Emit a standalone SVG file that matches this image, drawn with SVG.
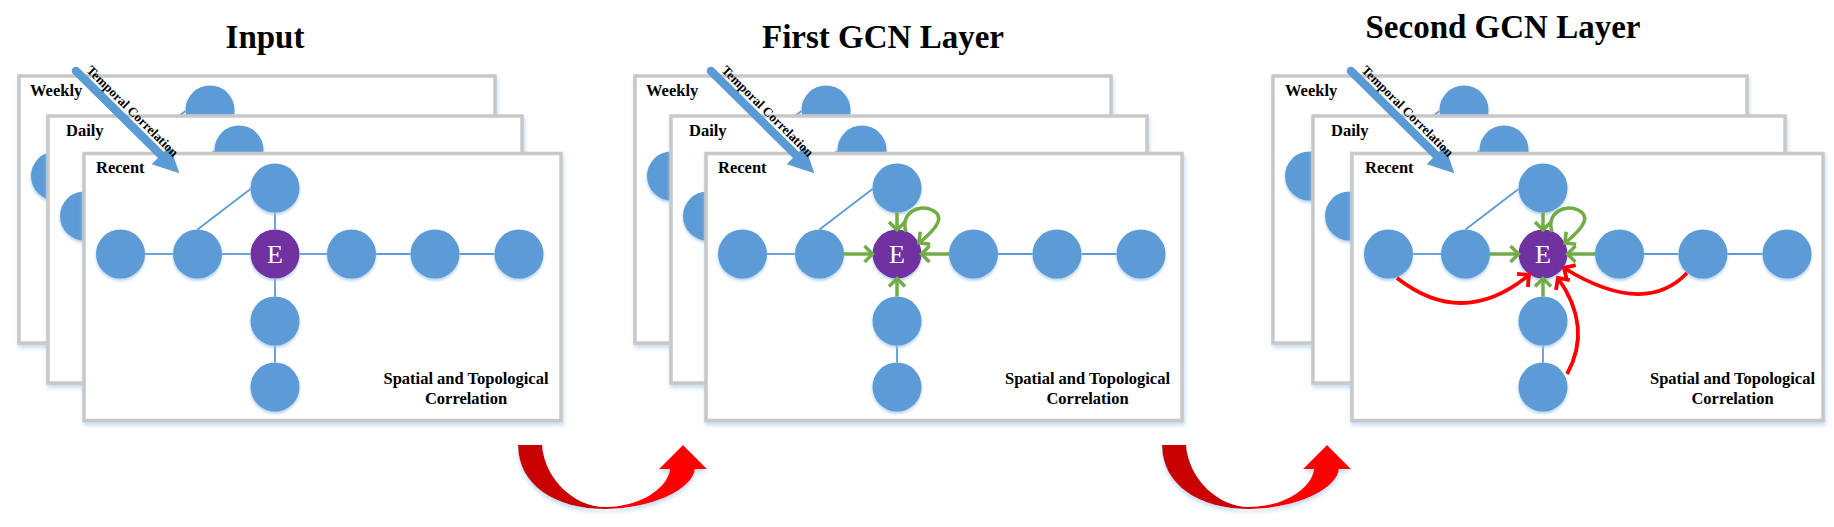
<svg xmlns="http://www.w3.org/2000/svg" width="1834" height="527" viewBox="0 0 1834 527">
<style>
.frame{fill:#fff;stroke:#C8C8C8;stroke-width:3.5;filter:url(#fshadow)}
.node{fill:#5B9BD5;filter:url(#nshadow)}
.enode{fill:#7030A0;filter:url(#nshadow)}
.edge{stroke:#5B9BD5;stroke-width:1.8;fill:none}
.g{stroke:#70AD47;stroke-width:3.5;fill:none;marker-end:url(#gArrow)}
.r{stroke:#FF0000;stroke-width:3.8;fill:none;marker-end:url(#rArrow)}
.title{font-family:"Liberation Serif","Times New Roman",serif;font-weight:bold;font-size:33px;text-anchor:middle;fill:#000}
.lbl{font-family:"Liberation Serif","Times New Roman",serif;font-weight:bold;font-size:16.5px;fill:#000}
.sp{font-family:"Liberation Serif","Times New Roman",serif;font-weight:bold;font-size:16.5px;text-anchor:middle;fill:#000}
.tc{font-family:"Liberation Serif","Times New Roman",serif;font-weight:bold;font-size:13px;fill:#000}
.etext{font-family:"Liberation Serif","Times New Roman",serif;font-size:26px;fill:#fff;text-anchor:middle}
.tshaft{stroke:#5B9BD5;stroke-width:8.5;stroke-linecap:round;fill:none}
.thead{fill:#5B9BD5}
.big{fill:url(#bigGrad);filter:url(#ashadow)}
</style>
<defs>
<filter id="nshadow" x="-30%" y="-30%" width="160%" height="170%">
<feDropShadow dx="0" dy="2" stdDeviation="1.5" flood-color="#9DC3E6" flood-opacity="0.8"/>
</filter>
<filter id="fshadow" x="-5%" y="-5%" width="110%" height="115%">
<feDropShadow dx="1" dy="3" stdDeviation="2" flood-color="#BDD7EE" flood-opacity="0.9"/>
</filter>
<filter id="ashadow" x="-10%" y="-10%" width="120%" height="130%">
<feDropShadow dx="0" dy="3" stdDeviation="2" flood-color="#BDD7EE" flood-opacity="0.9"/>
</filter>
<linearGradient id="bigGrad" gradientUnits="userSpaceOnUse" x1="518" y1="0" x2="707" y2="0">
<stop offset="0" stop-color="#C80000"/>
<stop offset="0.42" stop-color="#CC0000"/>
<stop offset="0.58" stop-color="#FF0000"/>
<stop offset="1" stop-color="#FF0000"/>
</linearGradient>
<marker id="gArrow" viewBox="0 0 20 20" refX="10" refY="10" markerWidth="20" markerHeight="20" markerUnits="userSpaceOnUse" orient="auto" overflow="visible">
<path d="M2,2 L10,10 L2,18" fill="none" stroke="#70AD47" stroke-width="3.5"/>
</marker>
<marker id="rArrow" viewBox="0 0 20 20" refX="10" refY="10" markerWidth="20" markerHeight="20" markerUnits="userSpaceOnUse" orient="auto" overflow="visible">
<path d="M1.5,1.5 L10,10 L1.5,18.5" fill="none" stroke="#FF0000" stroke-width="3.8"/>
</marker>
<g id="bgGraph">
<g class="bgEdges">
<line class="edge" x1="61" y1="100" x2="89" y2="100"/>
<line class="edge" x1="138" y1="100" x2="166.5" y2="100"/>
<line class="edge" x1="215.5" y1="100" x2="243" y2="100"/>
<line class="edge" x1="292" y1="100" x2="326.5" y2="100"/>
<line class="edge" x1="375.5" y1="100" x2="410.5" y2="100"/>
<line class="edge" x1="191" y1="58.5" x2="191" y2="75.5"/>
<line class="edge" x1="191" y1="124.5" x2="191" y2="142.5"/>
<line class="edge" x1="191" y1="191.5" x2="191" y2="208.5"/>
<line class="edge" x1="113.5" y1="75.5" x2="166.5" y2="35"/>
</g>
<circle class="node" cx="36.5" cy="100" r="24.5"/>
<circle class="node" cx="113.5" cy="100" r="24.5"/>
<circle class="node" cx="191" cy="100" r="24.5"/>
<circle class="node" cx="267.5" cy="100" r="24.5"/>
<circle class="node" cx="351" cy="100" r="24.5"/>
<circle class="node" cx="435" cy="100" r="24.5"/>
<circle class="node" cx="191" cy="34" r="24.5"/>
<circle class="node" cx="191" cy="167" r="24.5"/>
<circle class="node" cx="191" cy="233" r="24.5"/>
</g>
</defs>

<!-- ================= PANEL 1 : Input ================= -->
<g id="panel-input">
<g id="p1-weekly">
<rect class="frame" x="19" y="76" width="476" height="267"/>
<use href="#bgGraph" transform="translate(19,76)"/>
<text class="lbl" x="30" y="96">Weekly</text>
</g>
<g id="p1-daily">
<rect class="frame" x="48" y="116" width="474" height="267"/>
<use href="#bgGraph" transform="translate(48,116)"/>
<text class="lbl" x="66" y="136">Daily</text>
</g>
<g id="p1-recent">
<rect class="frame" x="84" y="153.5" width="477" height="267"/>
<text class="lbl" x="96" y="173">Recent</text>
<g transform="translate(84,154)">
<g id="p1-connectors">
<line class="edge" x1="61" y1="100" x2="89" y2="100"/>
<line class="edge" x1="138" y1="100" x2="166.5" y2="100"/>
<line class="edge" x1="215.5" y1="100" x2="243" y2="100"/>
<line class="edge" x1="292" y1="100" x2="326.5" y2="100"/>
<line class="edge" x1="375.5" y1="100" x2="410.5" y2="100"/>
<line class="edge" x1="191" y1="58.5" x2="191" y2="75.5"/>
<line class="edge" x1="191" y1="124.5" x2="191" y2="142.5"/>
<line class="edge" x1="191" y1="191.5" x2="191" y2="208.5"/>
<line class="edge" x1="113.5" y1="75.5" x2="166.5" y2="35"/>
</g>
<g id="p1-n1"><circle class="node" cx="36.5" cy="100" r="24.5"/></g>
<g id="p1-n2"><circle class="node" cx="113.5" cy="100" r="24.5"/></g>
<g id="p1-E"><circle class="enode" cx="191" cy="100" r="24.5"/><text class="etext" x="191" y="108.5">E</text></g>
<g id="p1-n4"><circle class="node" cx="267.5" cy="100" r="24.5"/></g>
<g id="p1-n5"><circle class="node" cx="351" cy="100" r="24.5"/></g>
<g id="p1-n6"><circle class="node" cx="435" cy="100" r="24.5"/></g>
<g id="p1-top"><circle class="node" cx="191" cy="34" r="24.5"/></g>
<g id="p1-b1"><circle class="node" cx="191" cy="167" r="24.5"/></g>
<g id="p1-b2"><circle class="node" cx="191" cy="233" r="24.5"/></g>
</g>
<text class="sp" x="466" y="384">Spatial and Topological</text>
<text class="sp" x="466" y="404">Correlation</text>
</g>
<g id="p1-temporal">
<line class="tshaft" x1="76" y1="71" x2="162" y2="156"/>
<polygon class="thead" points="179.3,173.3 170,145.8 151.7,164.2"/>
<text class="tc" transform="translate(85.7,71) rotate(44.7)" textLength="123" lengthAdjust="spacingAndGlyphs">Temporal Correlation</text>
</g>
<text class="title" x="265" y="48">Input</text>
</g>

<!-- transition arrow 1 -->
<g id="transition-1">
<path class="big" d="M518,445 L542,445 C545,480 575,507 605,507 C640,507 668,488 670,469 L659,469 L683,445 L707,469 L695,469 C693,490 650,509 605,509 C555,509 518,485 518,445 Z"/>
</g>

<!-- ================= PANEL 2 : First GCN Layer ================= -->
<g id="panel-first">
<g id="p2-weekly">
<rect class="frame" x="635" y="76" width="476" height="267"/>
<use href="#bgGraph" transform="translate(635,76)"/>
<text class="lbl" x="646" y="96">Weekly</text>
</g>
<g id="p2-daily">
<rect class="frame" x="671" y="116" width="476" height="267"/>
<use href="#bgGraph" transform="translate(671,116)"/>
<text class="lbl" x="689" y="136">Daily</text>
</g>
<g id="p2-recent">
<rect class="frame" x="706" y="153.5" width="476" height="267"/>
<text class="lbl" x="718" y="173">Recent</text>
<g transform="translate(706,154)">
<g id="p2-connectors">
<line class="edge" x1="61" y1="100" x2="89" y2="100"/>
<line class="edge" x1="292" y1="100" x2="326.5" y2="100"/>
<line class="edge" x1="375.5" y1="100" x2="410.5" y2="100"/>
<line class="edge" x1="191" y1="191.5" x2="191" y2="208.5"/>
<line class="edge" x1="113.5" y1="75.5" x2="166.5" y2="35"/>
</g>
<g id="p2-n1"><circle class="node" cx="36.5" cy="100" r="24.5"/></g>
<g id="p2-n2"><circle class="node" cx="113.5" cy="100" r="24.5"/></g>
<g id="p2-E"><circle class="enode" cx="191" cy="100" r="24.5"/><text class="etext" x="191" y="108.5">E</text></g>
<g id="p2-n4"><circle class="node" cx="267.5" cy="100" r="24.5"/></g>
<g id="p2-n5"><circle class="node" cx="351" cy="100" r="24.5"/></g>
<g id="p2-n6"><circle class="node" cx="435" cy="100" r="24.5"/></g>
<g id="p2-top"><circle class="node" cx="191" cy="34" r="24.5"/></g>
<g id="p2-b1"><circle class="node" cx="191" cy="167" r="24.5"/></g>
<g id="p2-b2"><circle class="node" cx="191" cy="233" r="24.5"/></g>
<g id="p2-flows">
<path class="g" d="M191,58.5 L191,76"/>
<path class="g" d="M138,100 L166.5,100"/>
<path class="g" d="M243,100 L215.5,100"/>
<path class="g" d="M191,142.5 L191,124.5"/>
<path class="g" d="M200,78 C194,58 214,50 226,56 C238,62 234,72 213,89"/>
</g>
</g>
<text class="sp" x="1087.5" y="384">Spatial and Topological</text>
<text class="sp" x="1087.5" y="404">Correlation</text>
</g>
<g id="p2-temporal">
<line class="tshaft" x1="711" y1="71" x2="797" y2="156"/>
<polygon class="thead" points="814.3,173.3 805,145.8 786.7,164.2"/>
<text class="tc" transform="translate(720.7,71) rotate(44.7)" textLength="123" lengthAdjust="spacingAndGlyphs">Temporal Correlation</text>
</g>
<text class="title" x="883" y="48">First GCN Layer</text>
</g>

<!-- transition arrow 2 -->
<g id="transition-2">
<path class="big" transform="translate(644,0)" d="M518,445 L542,445 C545,480 575,507 605,507 C640,507 668,488 670,469 L659,469 L683,445 L707,469 L695,469 C693,490 650,509 605,509 C555,509 518,485 518,445 Z"/>
</g>

<!-- ================= PANEL 3 : Second GCN Layer ================= -->
<g id="panel-second">
<g id="p3-weekly">
<rect class="frame" x="1273" y="76" width="474" height="267"/>
<use href="#bgGraph" transform="translate(1273,76)"/>
<text class="lbl" x="1285" y="96">Weekly</text>
</g>
<g id="p3-daily">
<rect class="frame" x="1313" y="116" width="472" height="267"/>
<use href="#bgGraph" transform="translate(1313,116)"/>
<text class="lbl" x="1331" y="136">Daily</text>
</g>
<g id="p3-recent">
<rect class="frame" x="1352" y="153.5" width="471" height="267"/>
<text class="lbl" x="1365" y="173">Recent</text>
<g transform="translate(1352,154)">
<g id="p3-connectors">
<line class="edge" x1="61" y1="100" x2="89" y2="100"/>
<line class="edge" x1="292" y1="100" x2="326.5" y2="100"/>
<line class="edge" x1="375.5" y1="100" x2="410.5" y2="100"/>
<line class="edge" x1="191" y1="191.5" x2="191" y2="208.5"/>
<line class="edge" x1="113.5" y1="75.5" x2="166.5" y2="35"/>
</g>
<g id="p3-n1"><circle class="node" cx="36.5" cy="100" r="24.5"/></g>
<g id="p3-n2"><circle class="node" cx="113.5" cy="100" r="24.5"/></g>
<g id="p3-E"><circle class="enode" cx="191" cy="100" r="24.5"/><text class="etext" x="191" y="108.5">E</text></g>
<g id="p3-n4"><circle class="node" cx="267.5" cy="100" r="24.5"/></g>
<g id="p3-n5"><circle class="node" cx="351" cy="100" r="24.5"/></g>
<g id="p3-n6"><circle class="node" cx="435" cy="100" r="24.5"/></g>
<g id="p3-top"><circle class="node" cx="191" cy="34" r="24.5"/></g>
<g id="p3-b1"><circle class="node" cx="191" cy="167" r="24.5"/></g>
<g id="p3-b2"><circle class="node" cx="191" cy="233" r="24.5"/></g>
<g id="p3-flows">
<path class="g" d="M191,58.5 L191,76"/>
<path class="g" d="M138,100 L166.5,100"/>
<path class="g" d="M243,100 L215.5,100"/>
<path class="g" d="M191,142.5 L191,124.5"/>
<path class="g" d="M200,78 C194,58 214,50 226,56 C238,62 234,72 213,89"/>
<path class="r" d="M45,124 Q111,175.5 177,121"/>
<path class="r" d="M335,119 Q292.5,163.5 212,114"/>
<path class="r" d="M215,220 Q241,173.5 206,124"/>
</g>
</g>
<text class="sp" x="1732.5" y="384">Spatial and Topological</text>
<text class="sp" x="1732.5" y="404">Correlation</text>
</g>
<g id="p3-temporal">
<line class="tshaft" x1="1351" y1="71" x2="1437" y2="156"/>
<polygon class="thead" points="1454.3,173.3 1445,145.8 1426.7,164.2"/>
<text class="tc" transform="translate(1360.7,71) rotate(44.7)" textLength="123" lengthAdjust="spacingAndGlyphs">Temporal Correlation</text>
</g>
<text class="title" x="1503" y="38">Second GCN Layer</text>
</g>
</svg>
